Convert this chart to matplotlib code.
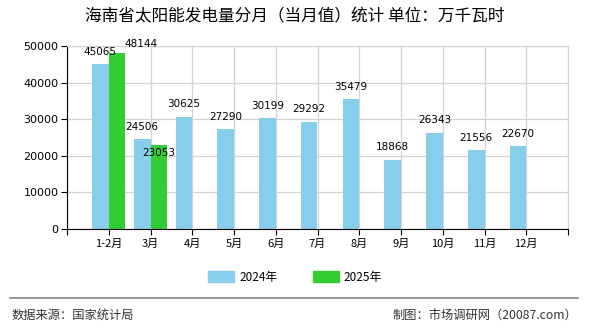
import matplotlib
matplotlib.use("Agg")
import matplotlib.pyplot as plt
import numpy as np
from matplotlib.patches import Patch
from matplotlib.lines import Line2D

plt.rcParams['font.family'] = ['Noto Sans CJK SC', 'DejaVu Sans']

months = ["1-2月", "3月", "4月", "5月", "6月", "7月", "8月", "9月", "10月", "11月", "12月"]
v2024 = [45065, 24506, 30625, 27290, 30199, 29292, 35479, 18868, 26343, 21556, 22670]
v2025 = [48144, 23053]

c2024 = "#87CEEB"
c2025 = "#33CC33"

fig = plt.figure(figsize=(5.9, 3.3), dpi=100)
ax = fig.add_axes([67 / 590, 1 - 229 / 330, (568 - 67) / 590, (229 - 46) / 330])

x = np.arange(1, len(months) + 1)
w = 0.4
ax.bar(x - w / 2, v2024, width=w, color=c2024, zorder=2)
x25 = x[:len(v2025)]
ax.bar(x25 + w / 2, v2025, width=w, color=c2025, zorder=2)

# value labels (offsets in points, a few nudged to avoid overlap like the original)
for i, v in enumerate(v2024):
    ax.annotate(str(v), (x[i] - w / 2, v), xytext=(0, 9), textcoords="offset points",
                ha="center", va="center", fontsize=7.5, family="DejaVu Sans", zorder=3)
off25 = {0: (17, 6), 1: (0, -6)}
for i, v in enumerate(v2025):
    dx, dy = off25.get(i, (0, 9))
    ax.annotate(str(v), (x25[i] + w / 2, v), xytext=(dx, dy), textcoords="offset points",
                ha="center", va="center", fontsize=7.5, family="DejaVu Sans", zorder=3)

ax.set_xlim(0, len(months) + 1)
ax.set_ylim(0, 50000)
ax.set_yticks(np.arange(0, 50001, 10000))
ax.set_xticks(np.arange(0, len(months) + 2))
ax.set_xticklabels([""] + months + [""])
ax.grid(True, color="#d3d3d3", linewidth=0.9, zorder=0)
ax.set_axisbelow(True)
for s in ["top", "right"]:
    ax.spines[s].set_color("#d3d3d3")
for s in ["left", "bottom"]:
    ax.spines[s].set_color("black")
ax.tick_params(axis="both", labelsize=8, length=4, color="black", pad=2)
ax.tick_params(axis="x", pad=3)
for lab in ax.get_yticklabels():
    lab.set_family("DejaVu Sans")

fig.text(0.5, 1 - 17 / 330, "海南省太阳能发电量分月（当月值）统计 单位：万千瓦时",
         ha="center", va="center", fontsize=12)

handles = [Patch(color=c2024, label="2024年"), Patch(color=c2025, label="2025年")]
fig.legend(handles=handles, loc="center", bbox_to_anchor=(0.5, 1 - 277 / 330), ncol=2,
           frameon=False, fontsize=8.5, handlelength=2.2, handleheight=1.0, columnspacing=3.0,
           handletextpad=0.4)

fig.add_artist(Line2D([10 / 590, 578 / 590], [1 - 298 / 330] * 2, color="#888888", linewidth=1.2))
fig.text(12 / 590, 1 - 315 / 330, "数据来源：国家统计局", ha="left", va="center", fontsize=8.8,
         color="#333333")
fig.text(577 / 590, 1 - 315 / 330, "制图：市场调研网（20087.com）", ha="right", va="center",
         fontsize=8.8, color="#333333")

fig.savefig("out.png", dpi=100)
